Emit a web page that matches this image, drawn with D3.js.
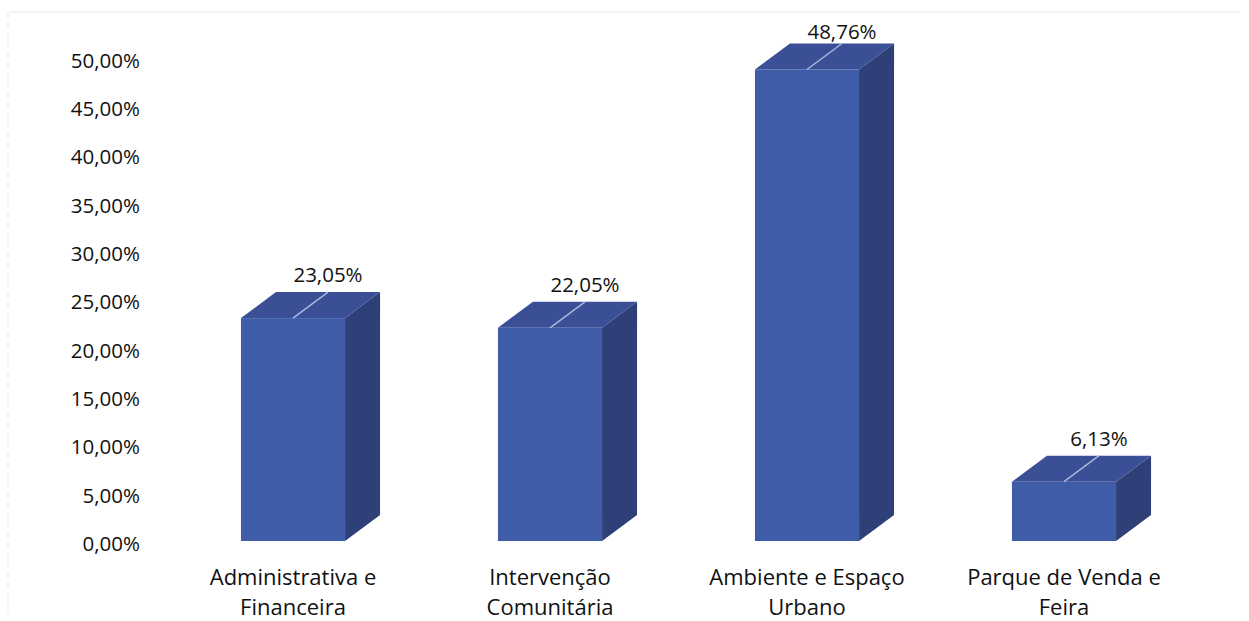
<!DOCTYPE html>
<html><head><meta charset="utf-8">
<script src="https://cdn.jsdelivr.net/npm/d3@7"></script>
<style>
html,body{margin:0;padding:0;background:#fff;}
svg{display:block;}
text{font-family:"Open Sans",sans-serif;fill:#111;}
</style></head>
<body>
<script>
const categories = [["Administrativa e","Financeira"],["Intervenção","Comunitária"],["Ambiente e Espaço","Urbano"],["Parque de Venda e","Feira"]];
const values = [23.05, 22.05, 48.76, 6.13];
const valueLabels = ["23,05%","22,05%","48,76%","6,13%"];
const tickValues = [0,5,10,15,20,25,30,35,40,45,50];
const tickLabels = ["0,00%","5,00%","10,00%","15,00%","20,00%","25,00%","30,00%","35,00%","40,00%","45,00%","50,00%"];

const W = 1249, H = 621;
const svg = d3.select("body").append("svg").attr("width", W).attr("height", H);

// faint scan frame
svg.append("line").attr("x1",10).attr("x2",1240).attr("y1",12).attr("y2",12).attr("stroke","#e6e6e6").attr("stroke-width",1);
svg.append("line").attr("x1",8).attr("x2",8).attr("y1",12).attr("y2",615).attr("stroke","#e6e6e6").attr("stroke-width",1).attr("stroke-dasharray","6,4");

const y = d3.scaleLinear().domain([0,50]).range([541, 57.5]);
const x = d3.scaleBand().domain(d3.range(categories.length)).range([164.5, 1192.5]).paddingInner(0.595).paddingOuter(0.2975);
const dx = 35, dy = -26;

// y axis labels
const yAxis = d3.axisLeft(y).tickValues(tickValues).tickFormat((d,i)=>tickLabels[i]).tickSize(0).tickPadding(0);
const ga = svg.append("g").attr("transform","translate(140,0)").call(yAxis);
ga.select(".domain").remove();
ga.selectAll("text").attr("font-size","20.5px").attr("font-family","'Open Sans',sans-serif").attr("fill","#111").attr("dy","0.32em").attr("transform","translate(0,3)");

const frontColor = "#3f5ca8", topColor = "#3a4f96", sideColor = "#2f4079";

const g = svg.append("g");
values.forEach((v,i)=>{
  const x0 = x(i), x1 = x(i)+x.bandwidth();
  const yt = y(v), yb = y(0);
  g.append("path").attr("d",`M${x1},${yb}L${x1+dx},${yb+dy}L${x1+dx},${yt+dy}L${x1},${yt}Z`).attr("fill",sideColor);
  g.append("path").attr("d",`M${x0},${yt}L${x0+dx},${yt+dy}L${x1+dx},${yt+dy}L${x1},${yt}Z`).attr("fill",topColor);
  g.append("rect").attr("x",x0).attr("y",yt).attr("width",x.bandwidth()).attr("height",yb-yt).attr("fill",frontColor);
  const cx = (x0+x1)/2;
  g.append("line").attr("x1",cx).attr("y1",yt).attr("x2",cx+dx).attr("y2",yt+dy).attr("stroke","#a9b6dc").attr("stroke-width",1.5);
  const ly = Math.max(yt+dy-17, 32);
  g.append("text").attr("x",cx+dx).attr("y",ly).attr("dy","0.35em").attr("text-anchor","middle").attr("font-size","20.5px").text(valueLabels[i]);
  const t = g.append("text").attr("text-anchor","middle").attr("font-size","22px");
  categories[i].forEach((line,j)=>{
    t.append("tspan").attr("x",cx).attr("y",585+30*j).text(line);
  });
});
</script>
</body></html>
